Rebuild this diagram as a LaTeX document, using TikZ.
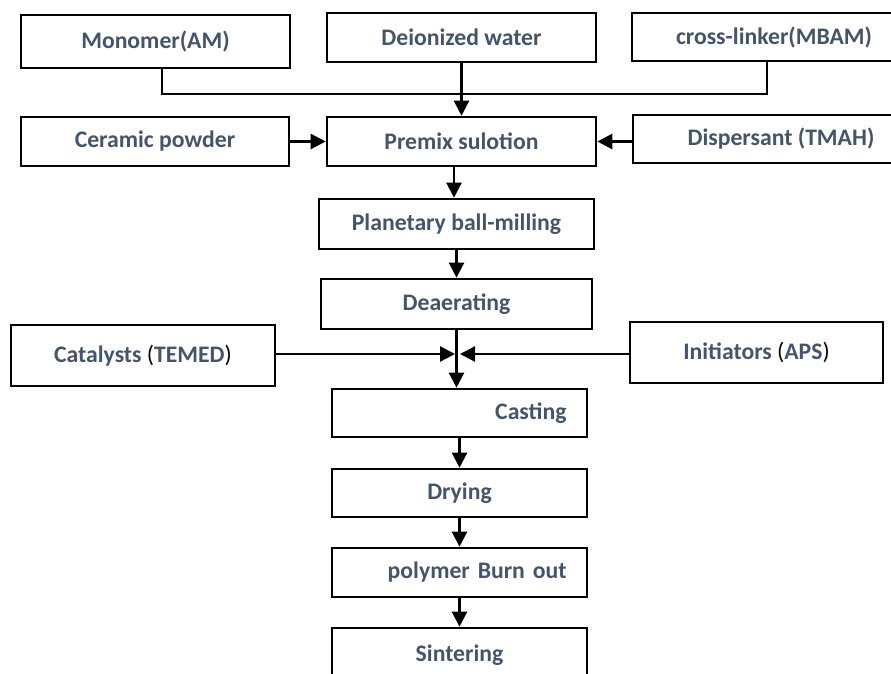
\documentclass[tikz,border=0pt]{standalone}
\usepackage{fontspec}
\setmainfont{Carlito}
\usepackage{xcolor}
\usetikzlibrary{arrows.meta, positioning}
\definecolor{txtblue}{HTML}{44546A}

\begin{document}
\begin{tikzpicture}[x=1pt, y=-1pt,
            box/.style={rectangle, draw=black, line width=2.6pt, inner sep=0pt, align=center, text=txtblue, font=\fontsize{23.7}{28}\selectfont\bfseries},
            flow/.style={line width=2.3pt, -{Triangle[length=15pt, width=15pt]}},
            link/.style={line width=2.3pt}
        ]
            \useasboundingbox (0,0) rectangle (891,673);
            \clip (0,0) rectangle (891,673);

% Raw materials
            \node[box, minimum width=269pt, minimum height=53pt] (monomer) at (155.5,41.5) {Monomer(AM)};
            \node[box, minimum width=269pt, minimum height=49pt] (water) at (461.5,37.5) {Deionized water};
            \node[box, minimum width=284pt, minimum height=48pt] (crosslinker) at (774,37) {cross-linker(MBAM)};

            \node[box, minimum width=268pt, minimum height=49pt] (ceramic) at (155,141.5) {Ceramic powder};
            \node[box, minimum width=269pt, minimum height=49pt] (premix) at (461.5,141.5) {Premix sulotion};
            \node[box, minimum width=296pt, minimum height=48pt] (dispersant) at (781,139) {Dispersant (TMAH)};

% Milling and deaerating
            \node[box, minimum width=275pt, minimum height=50pt] (milling) at (456.5,224) {Planetary ball-milling};
            \node[box, minimum width=271pt, minimum height=50pt] (deaerating) at (456.5,304) {Deaerating};

% Catalyst and initiator
            \node[box, minimum width=264pt, minimum height=61pt] (catalysts) at (143,355.5) {Catalysts {\color{black}\mdseries(}TEMED{\color{black}\mdseries)}};
            \node[box, minimum width=253pt, minimum height=61pt] (initiators) at (756.5,352.5) {Initiators {\color{black}\mdseries(}APS{\color{black}\mdseries)}};

% Forming and firing
            \node[box, minimum height=48pt, text width=214pt, inner xsep=20.5pt, align=right] (casting) at (459.5,413) {Casting};
            \node[box, minimum width=255pt, minimum height=48pt] (drying) at (459.5,493) {Drying};
            \node[box, minimum height=49pt, text width=214pt, inner xsep=20.5pt, align=right] (burnout) at (459.5,572.5) {polymer Burn out};
            \node[box, minimum width=255pt, minimum height=54pt] (sintering) at (459.5,655) {Sintering};

% Connectors
            \coordinate (merge) at (462,94);
            \coordinate (junction) at (457,354);
            \coordinate (premixout) at ([xshift=-7.5pt]premix.south);
            \draw[link] ([xshift=6.5pt]monomer.south) |- (merge) -| ([xshift=-7pt]crosslinker.south);
            \draw[flow] (water.south) -- (premix.north);
            \draw[flow] (ceramic.east) -- (premix.west);
            \draw[flow] (dispersant.west |- premix.east) -- (premix.east);
            \draw[flow] (premixout) -- (premixout |- milling.north);
            \draw[flow] (milling.south) -- (milling.south |- deaerating.north);
            \draw[flow] (deaerating.south) -- (deaerating.south |- casting.north);
            \draw[flow] (catalysts.east |- junction) -- ([xshift=-2pt]junction);
            \draw[flow] (initiators.west |- junction) -- ([xshift=3pt]junction);
            \draw[flow] (casting.south) -- (drying.north);
            \draw[flow] (drying.south) -- (burnout.north);
            \draw[flow] (burnout.south) -- (sintering.north);

        \end{tikzpicture}
\end{document}
